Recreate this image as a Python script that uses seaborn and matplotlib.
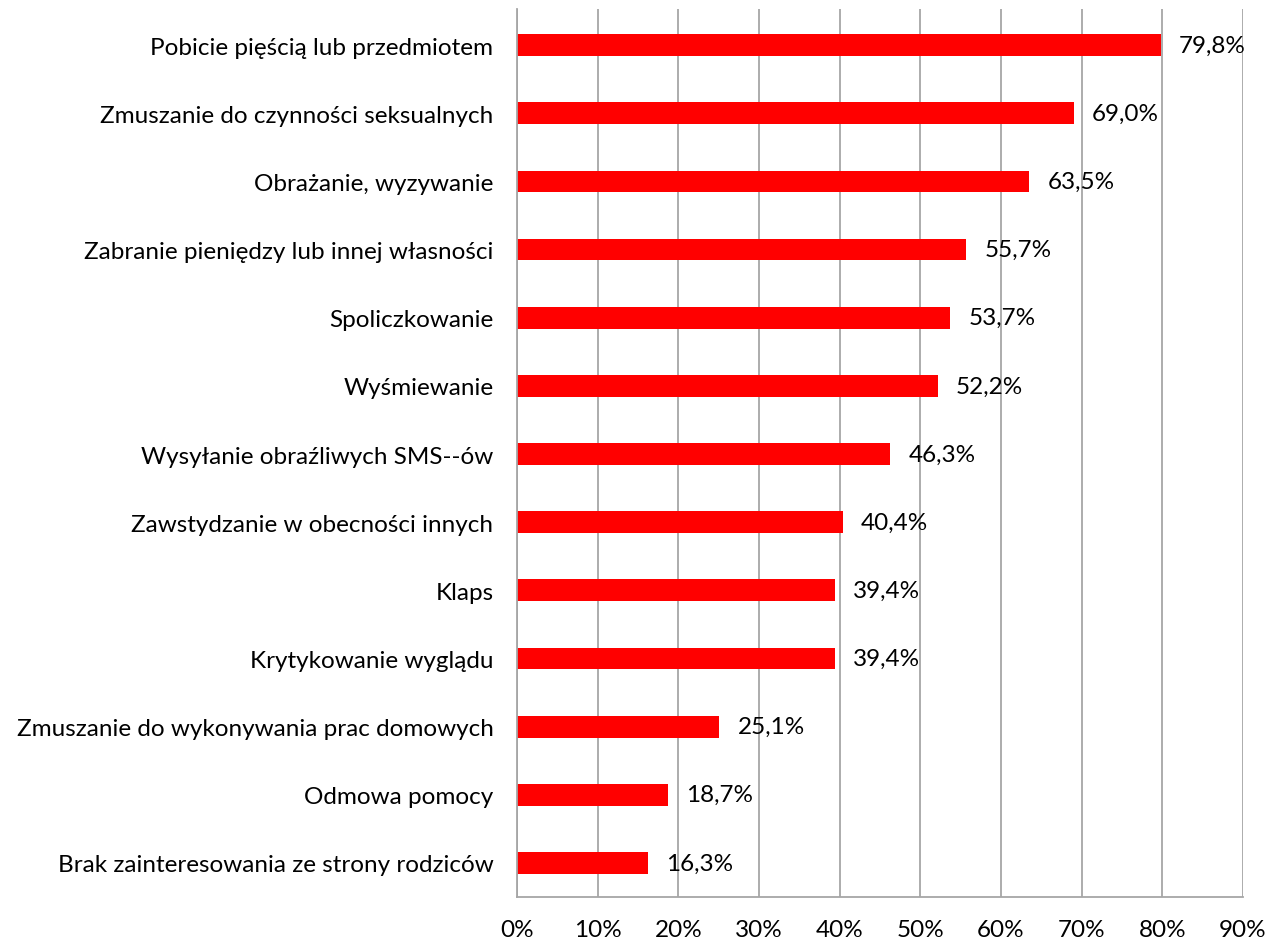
import matplotlib
matplotlib.use("Agg")
import matplotlib.pyplot as plt
import seaborn as sns
import pandas as pd
from matplotlib.ticker import FuncFormatter

categories = [
    "Pobicie pięścią lub przedmiotem",
    "Zmuszanie do czynności seksualnych",
    "Obrażanie, wyzywanie",
    "Zabranie pieniędzy lub innej własności",
    "Spoliczkowanie",
    "Wyśmiewanie",
    "Wysyłanie obraźliwych SMS--ów",
    "Zawstydzanie w obecności innych",
    "Klaps",
    "Krytykowanie wyglądu",
    "Zmuszanie do wykonywania prac domowych",
    "Odmowa pomocy",
    "Brak zainteresowania ze strony rodziców",
]
values = [79.8, 69.0, 63.5, 55.7, 53.7, 52.2, 46.3, 40.4, 39.4, 39.4, 25.1, 18.7, 16.3]
x_ticks = [0, 10, 20, 30, 40, 50, 60, 70, 80, 90]

df = pd.DataFrame({"kategoria": categories, "procent": values})

sns.set_theme(style="white")
plt.rcParams["font.family"] = ["Lato", "DejaVu Sans"]

fig = plt.figure(figsize=(12.71, 9.45), dpi=100)
ax = fig.add_axes([517 / 1271, 1 - 898 / 945, (1243 - 517) / 1271, (898 - 10) / 945])

sns.barplot(data=df, x="procent", y="kategoria", orient="h", color="#FF0000",
            saturation=1, width=0.32, ax=ax, edgecolor="none")

ax.set_xlim(0, 90)
ax.set_ylim(12.5, -0.53)
ax.set_xticks(x_ticks)
ax.xaxis.set_major_formatter(FuncFormatter(lambda v, p: f"{int(v)}%"))
ax.grid(axis="x", color="#A6A6A6", linewidth=1.3)
ax.grid(axis="y", visible=False)
ax.set_axisbelow(True)

for s in ["top", "right"]:
    ax.spines[s].set_visible(False)
for s in ["left", "bottom"]:
    ax.spines[s].set_color("#A6A6A6")
    ax.spines[s].set_linewidth(1.3)

ax.tick_params(axis="x", length=0, pad=16, labelsize=17.5, colors="black")
ax.tick_params(axis="y", length=0, pad=17, labelsize=17.5, colors="black")
ax.set_xlabel("")
ax.set_ylabel("")

for i, v in enumerate(values):
    ax.annotate(f"{v:.1f}%".replace(".", ","), xy=(v, i), xytext=(13, 0),
                textcoords="offset points", ha="left", va="center",
                fontsize=17.5, color="black")

fig.savefig("out.png", dpi=100)
